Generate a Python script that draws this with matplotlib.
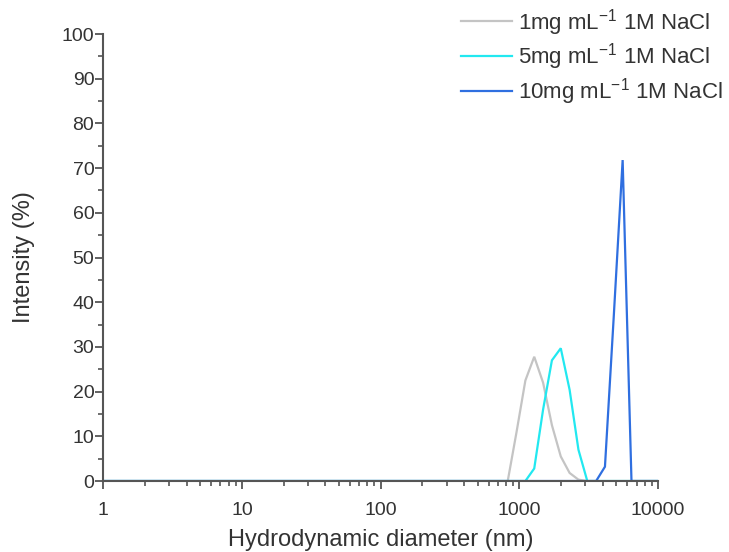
import matplotlib
matplotlib.use("Agg")
import matplotlib.pyplot as plt
from matplotlib.ticker import LogLocator, FixedLocator, MultipleLocator, FuncFormatter

plt.rcParams['font.family'] = ['Liberation Sans', 'DejaVu Sans']
plt.rcParams['mathtext.default'] = 'regular'

# Data (hydrodynamic diameter in nm, intensity in %)
sizes_1mg = [1, 825.0, 955.4, 1106, 1281, 1484, 1718, 1990, 2305, 2669, 3091, 10000]
int_1mg = [0, 0, 11.0, 22.5, 27.8, 22.0, 12.5, 5.5, 1.8, 0.3, 0, 0]

sizes_5mg = [1, 1106, 1281, 1484, 1718, 1990, 2305, 2669, 3091, 10000]
int_5mg = [0, 0, 2.8, 16.0, 27.0, 29.7, 20.4, 7.0, 0, 0]

sizes_10mg = [1, 3580, 4145, 4801, 5560, 6439, 10000]
int_10mg = [0, 0, 3.2, 37.0, 71.8, 0, 0]

labels = ['1mg mL$^{-1}$ 1M NaCl', '5mg mL$^{-1}$ 1M NaCl', '10mg mL$^{-1}$ 1M NaCl']
colors = ['#c4c4c4', '#22e8f0', '#2f6fe0']
xticks = [1, 10, 100, 1000, 10000]
yticks = list(range(0, 101, 10))

fig = plt.figure(figsize=(7.29, 5.52), dpi=100)
ax = fig.add_axes([0.1417, 0.1286, 0.7609, 0.8098])

series = [(sizes_1mg, int_1mg), (sizes_5mg, int_5mg), (sizes_10mg, int_10mg)]
for (x, y), lab, c in zip(series, labels, colors):
    ax.plot(x, y, color=c, lw=1.6, label=lab, solid_joinstyle='miter')

ax.set_xscale('log')
ax.set_xlim(1, 10000)
ax.set_ylim(0, 100)
ax.xaxis.set_major_locator(FixedLocator(xticks))
ax.xaxis.set_major_formatter(FuncFormatter(lambda v, p: f"{int(round(v))}"))
ax.xaxis.set_minor_locator(LogLocator(base=10, subs=range(2, 10), numticks=20))
ax.xaxis.set_minor_formatter(FuncFormatter(lambda v, p: ""))
ax.yaxis.set_major_locator(FixedLocator(yticks))
ax.yaxis.set_minor_locator(MultipleLocator(5))

for s in ['top', 'right']:
    ax.spines[s].set_visible(False)
for s in ['left', 'bottom']:
    ax.spines[s].set_color('#555555')
    ax.spines[s].set_linewidth(1.5)

ax.tick_params(which='major', direction='out', length=6, width=1.3, color='#555555',
               labelsize=14, labelcolor='#333333')
ax.tick_params(axis='x', which='major', pad=9)
ax.tick_params(axis='y', which='major', pad=0.5)
ax.tick_params(which='minor', direction='out', length=3.5, width=1.2, color='#555555')

ax.set_xlabel('Hydrodynamic diameter (nm)', fontsize=17, color='#333333', labelpad=7)
ax.set_ylabel('Intensity (%)', fontsize=17, color='#333333', labelpad=19)

fig.legend(loc='upper right', bbox_to_anchor=(1.0, 1.0), frameon=False, fontsize=16,
           handlelength=2.3, handletextpad=0.25, labelspacing=0.18, borderpad=0.3,
           borderaxespad=0.0, labelcolor='#333333')

fig.savefig('out.png', dpi=100)
